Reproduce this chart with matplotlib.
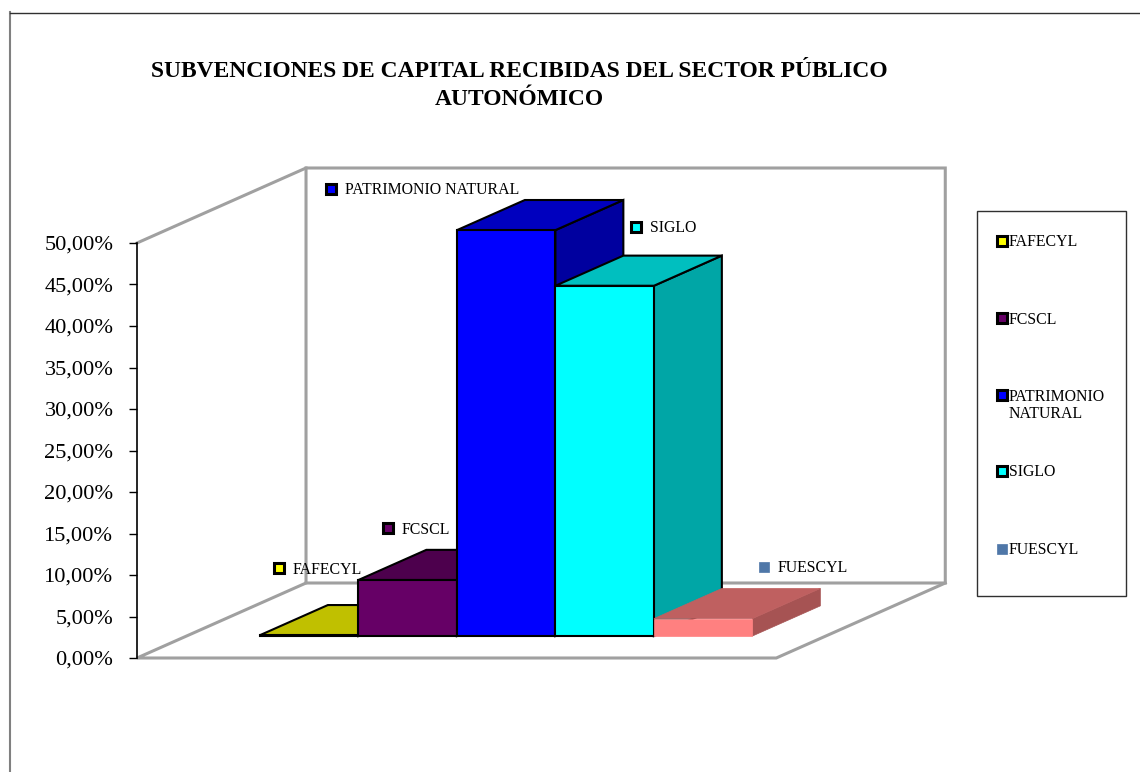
import matplotlib
matplotlib.use('Agg')
import matplotlib.pyplot as plt
from matplotlib.patches import Polygon, Rectangle

plt.rcParams['font.family'] = ['Liberation Serif', 'DejaVu Serif']

# Data
categories = ['FAFECYL', 'FCSCL', 'PATRIMONIO NATURAL', 'SIGLO', 'FUESCYL']
values = [0.1, 6.75, 48.9, 42.2, 2.1]
legend_labels = ['FAFECYL', 'FCSCL', 'PATRIMONIO\nNATURAL', 'SIGLO', 'FUESCYL']
y_ticks = [0, 5, 10, 15, 20, 25, 30, 35, 40, 45, 50]
y_tick_labels = ['0,00%', '5,00%', '10,00%', '15,00%', '20,00%', '25,00%',
                 '30,00%', '35,00%', '40,00%', '45,00%', '50,00%']
title = 'SUBVENCIONES DE CAPITAL RECIBIDAS DEL SECTOR PÚBLICO\nAUTONÓMICO'

# Colours per bar
front_colors = ['#FFFF00', '#660066', '#0000FF', '#00FFFF', '#FF8080']
top_colors = ['#C0C000', '#4D004D', '#0000BF', '#00BFBF', '#BF6060']
side_colors = ['#A6A600', '#420042', '#00009F', '#00A6A6', '#A65353']
outlined = [True, True, True, True, False]
marker_colors = ['#FFFF00', '#660066', '#0000FF', '#00FFFF', '#4F77A8']

W, H = 1140, 772

# Layout in pixels of the output picture
X_ORIGIN = 210.4    # pixel x of category position 0
X_UNIT = 98.5       # pixels per bar
Y_ZERO = 658        # pixel y of 0 %
Y_UNIT = 8.3        # pixels per percentage point
BOX_LEFT, BOX_RIGHT = -0.745, 5.745
DEPTH_X = 169 / X_UNIT
DEPTH_Y = 75 / Y_UNIT
BAR_D0, BAR_D1 = 0.293, 0.695


def proj(c, v, d):
    # oblique projection: category, value, depth -> data coords of the axes
    return (c + d * DEPTH_X, v + d * DEPTH_Y)


def fx(px):
    return px / W


def fy(py):
    return 1 - py / H


fig = plt.figure(figsize=(W / 100, H / 100), dpi=100)
ax = fig.add_axes([0, 0, 1, 1])
ax.set_xlim((0 - X_ORIGIN) / X_UNIT, (W - X_ORIGIN) / X_UNIT)
ax.set_ylim((Y_ZERO - H) / Y_UNIT, Y_ZERO / Y_UNIT)
ax.patch.set_visible(False)

# Outer frame of the chart, cut by the picture on the right and at the bottom
fig.add_artist(plt.Line2D([fx(10), fx(10)], [fy(772), fy(12)], color='#808080', lw=1.5))
fig.add_artist(plt.Line2D([fx(10), fx(1140)], [fy(12.5), fy(12.5)], color='#303030', lw=1))

# Walls and floor of the 3D box
wall = dict(color='#A0A0A0', lw=2.2, solid_joinstyle='miter', zorder=1)
box_lines = [
    [(BOX_LEFT, 50, 0), (BOX_LEFT, 50, 1), (BOX_RIGHT, 50, 1), (BOX_RIGHT, 0, 1), (BOX_LEFT, 0, 1)],
    [(BOX_LEFT, 50, 1), (BOX_LEFT, 0, 1), (BOX_LEFT, 0, 0), (BOX_RIGHT, 0, 0), (BOX_RIGHT, 0, 1)],
]
for line in box_lines:
    pts = [proj(*p) for p in line]
    ax.plot([p[0] for p in pts], [p[1] for p in pts], **wall)

# Bars, left to right so that each one hides what it should
for i, val in enumerate(values):
    c0, c1 = i, i + 1
    front = [proj(c0, 0, BAR_D0), proj(c1, 0, BAR_D0), proj(c1, val, BAR_D0), proj(c0, val, BAR_D0)]
    top = [proj(c0, val, BAR_D0), proj(c1, val, BAR_D0), proj(c1, val, BAR_D1), proj(c0, val, BAR_D1)]
    side = [proj(c1, 0, BAR_D0), proj(c1, 0, BAR_D1), proj(c1, val, BAR_D1), proj(c1, val, BAR_D0)]
    for poly, col in [(side, side_colors[i]), (top, top_colors[i]), (front, front_colors[i])]:
        if outlined[i]:
            ax.add_patch(Polygon(poly, closed=True, fc=col, ec='black', lw=1.5, zorder=3 + i))
        else:
            ax.add_patch(Polygon(poly, closed=True, fc=col, ec=col, lw=0.5, zorder=3 + i))

# Value axis
ax.xaxis.set_visible(False)
for s in ['top', 'right', 'bottom']:
    ax.spines[s].set_visible(False)
ax.spines['left'].set_position(('data', BOX_LEFT))
ax.spines['left'].set_bounds(0, 50)
ax.spines['left'].set_linewidth(1.2)
ax.spines['left'].set_zorder(2)
ax.set_yticks(y_ticks)
ax.set_yticklabels(y_tick_labels, fontsize=16.1)
ax.tick_params(axis='y', length=6, width=1, pad=11)

# Title
fig.text(fx(519), fy(85.5), title, ha='center', va='center', fontsize=16.9,
         fontweight='bold', linespacing=1.38)


def key(px, py, color, text, tx, size=11.4):
    mec = 'black' if color != marker_colors[4] else color
    fig.add_artist(plt.Line2D([fx(px)], [fy(py)], marker='s', ms=6.5, mfc=color, mec=mec,
                              mew=2.2 if mec == 'black' else 0.5, ls='none'))
    fig.text(fx(tx), fy(py + 1.5), text, ha='left', va='center', fontsize=size)


# Data labels
label_pos = [(279, 568), (388, 528), (331, 189), (636, 227), (764, 567)]
for (px, py), col, name in zip(label_pos, marker_colors, categories):
    key(px, py, col, name, px + 14)

# Legend box
fig.add_artist(Rectangle((fx(977), fy(596)), fx(149), fy(211) - fy(596), fc='white',
                         ec='#303030', lw=1, transform=fig.transFigure))
legend_y = [241, 318, 395, 471, 549]
for ly, col, name in zip(legend_y, marker_colors, legend_labels):
    if '\n' in name:
        first, second = name.split('\n')
        key(1002, ly, col, first, 1009)
        fig.text(fx(1009), fy(ly + 19), second, ha='left', va='center', fontsize=11.4)
    else:
        key(1002, ly, col, name, 1009)

fig.savefig('out.png', dpi=100, facecolor='white')
